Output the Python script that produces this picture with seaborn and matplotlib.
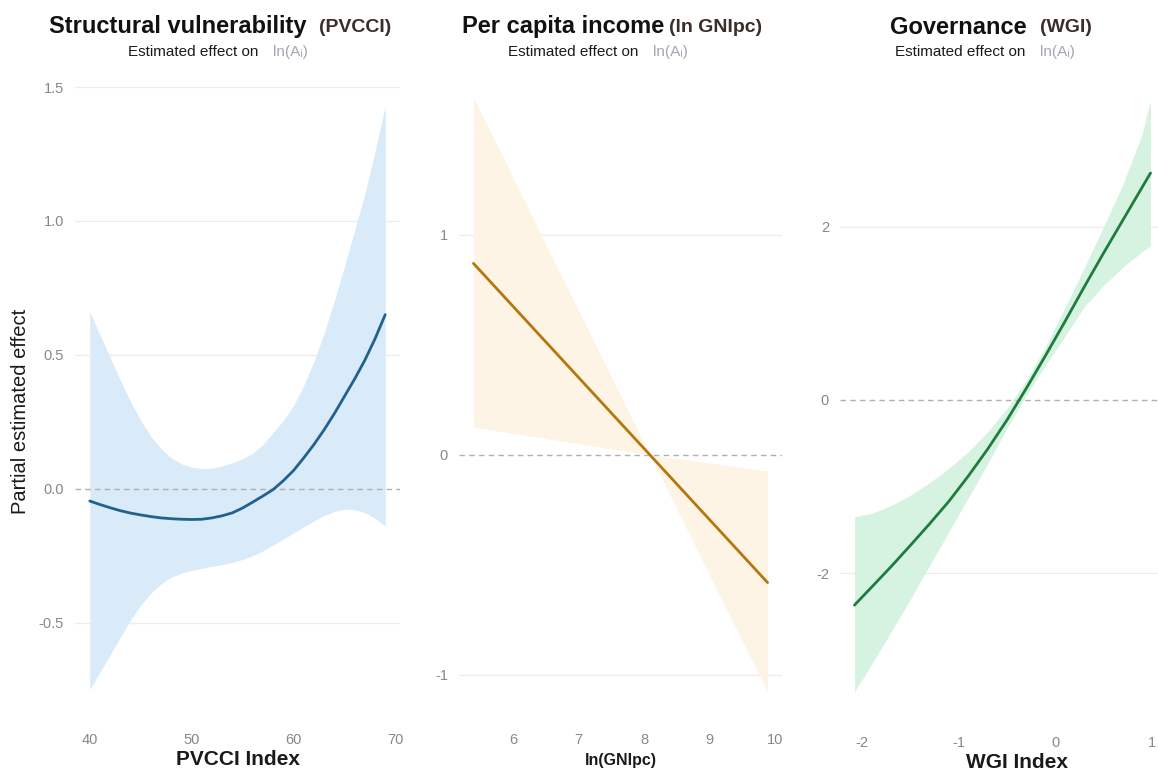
import matplotlib
matplotlib.use("Agg")
import matplotlib.pyplot as plt
import seaborn as sns

# ---- Structural vulnerability (PVCCI) ----
pvcci_x = [40, 41, 42, 43, 44, 45, 46, 47, 48, 49, 50, 51, 52, 53, 54,
           55, 56, 57, 58, 59, 60, 61, 62, 63, 64, 65, 66, 67, 68, 69]
pvcci_fit = [-0.046, -0.059, -0.071, -0.082, -0.091, -0.098, -0.104, -0.109,
             -0.112, -0.114, -0.115, -0.114, -0.109, -0.101, -0.090, -0.072,
             -0.050, -0.027, -0.003, 0.030, 0.068, 0.115, 0.165, 0.220,
             0.280, 0.345, 0.410, 0.480, 0.560, 0.650]
pvcci_hi = [0.660, 0.575, 0.490, 0.405, 0.325, 0.255, 0.195, 0.150, 0.115,
            0.093, 0.080, 0.075, 0.077, 0.085, 0.097, 0.112, 0.132, 0.165,
            0.210, 0.255, 0.310, 0.385, 0.475, 0.580, 0.700, 0.830, 0.965,
            1.100, 1.260, 1.430]
pvcci_lo = [-0.750, -0.685, -0.620, -0.555, -0.490, -0.435, -0.390, -0.355,
            -0.330, -0.315, -0.305, -0.297, -0.290, -0.283, -0.275, -0.264,
            -0.250, -0.232, -0.210, -0.188, -0.165, -0.142, -0.120, -0.100,
            -0.085, -0.077, -0.078, -0.090, -0.110, -0.140]

# ---- Per capita income (ln GNIpc) ----
gni_x = [5.40, 8.09, 9.88]
gni_fit = [0.871, 0.0, -0.580]
gni_hi = [1.625, 0.0, -0.072]
gni_lo = [0.127, 0.0, -1.077]

# ---- Governance (WGI) ----
wgi_x = [-2.08, -1.9, -1.7, -1.5, -1.3, -1.1, -0.9, -0.7, -0.5,
         -0.3, -0.1, 0.1, 0.3, 0.5, 0.7, 0.9, 0.99]
wgi_fit = [-2.37, -2.16, -1.925, -1.68, -1.43, -1.17, -0.88, -0.57, -0.235,
           0.13, 0.51, 0.90, 1.30, 1.69, 2.07, 2.45, 2.62]
wgi_hi = [-1.35, -1.31, -1.22, -1.10, -0.955, -0.79, -0.60, -0.37, -0.10,
          0.22, 0.61, 1.06, 1.52, 1.99, 2.48, 3.06, 3.45]
wgi_lo = [-3.37, -3.05, -2.68, -2.30, -1.91, -1.52, -1.13, -0.74, -0.33,
          0.05, 0.40, 0.73, 1.07, 1.32, 1.53, 1.71, 1.78]

sns.set_theme(style="white")
plt.rcParams["font.family"] = ["Liberation Sans", "DejaVu Sans"]
plt.rcParams["axes.unicode_minus"] = False

W, H = 1158, 771
fig = plt.figure(figsize=(W / 100, H / 100), dpi=100)


def px_axes(left, top, right, bottom):
    return fig.add_axes([left / W, 1 - bottom / H, (right - left) / W, (bottom - top) / H])


panels = [
    dict(ax=px_axes(75, 71, 400, 719), x=pvcci_x, fit=pvcci_fit, hi=pvcci_hi, lo=pvcci_lo,
         line="#22618e", fill="#d9eaf8", xlim=(38.55, 70.45), ylim=(-0.86, 1.56),
         xticks=[40, 50, 60, 70], yticks=[-0.5, 0.0, 0.5, 1.0, 1.5],
         yfmt="{:.1f}", xlabel="PVCCI Index", xlsize=15, xlx=0.5),
    dict(ax=px_axes(459, 70, 782, 719), x=gni_x, fit=gni_fit, hi=gni_hi, lo=gni_lo,
         line="#b5770c", fill="#fdf4e6", xlim=(5.18, 10.10), ylim=(-1.20, 1.75),
         xticks=[6, 7, 8, 9, 10], yticks=[-1, 0, 1],
         yfmt="{:.0f}", xlabel="ln(GNIpc)", xlsize=11.5, xlx=0.5),
    dict(ax=px_axes(840, 70, 1165, 722), x=wgi_x, fit=wgi_fit, hi=wgi_hi, lo=wgi_lo,
         line="#1f7c3e", fill="#d6f3e1", xlim=(-2.23, 1.14), ylim=(-3.72, 3.81),
         xticks=[-2, -1, 0, 1], yticks=[-2, 0, 2],
         yfmt="{:.0f}", xlabel="WGI Index", xlsize=15, xlx=0.545),
]

for p in panels:
    ax = p["ax"]
    ax.set_facecolor("white")
    for s in ax.spines.values():
        s.set_visible(False)
    ax.set_xlim(*p["xlim"])
    ax.set_ylim(*p["ylim"])
    ax.set_yticks(p["yticks"])
    ax.set_yticklabels([p["yfmt"].format(v) for v in p["yticks"]])
    ax.set_xticks(p["xticks"])
    ax.set_xticklabels([str(v) for v in p["xticks"]])
    ax.tick_params(axis="both", length=0, labelsize=10.5, labelcolor="#8a8785")
    ax.tick_params(axis="y", pad=8)
    ax.tick_params(axis="x", pad=10)
    for v in p["yticks"]:
        if v != 0:
            ax.axhline(v, color="#ececec", lw=0.9, zorder=0)
    ax.fill_between(p["x"], p["lo"], p["hi"], color=p["fill"], lw=0, zorder=1)
    ax.axhline(0, color="#b0b0b0", lw=1.0, ls=(0, (4, 3)), zorder=2)
    sns.lineplot(x=p["x"], y=p["fit"], ax=ax, color=p["line"], linewidth=2.0, zorder=3)
    ax.set_xlabel(p["xlabel"], fontsize=p["xlsize"], fontweight="bold", color="#1a1a1a")
    ax.xaxis.set_label_coords(p["xlx"], -0.048 if p["xlsize"] > 12 else -0.052)
    ax.set_ylabel("")

ax1 = panels[0]["ax"]
ax1.set_ylabel("Partial estimated effect", fontsize=14.5, color="#1a1a1a")
ax1.yaxis.set_label_coords(-0.138, 0.474)

fig.canvas.draw()
renderer = fig.canvas.get_renderer()


def composite(xc, yc, parts, gap):
    texts = []
    for s, kw in parts:
        t = fig.text(0, 1 - yc / H, s, va="center", ha="left", **kw)
        texts.append(t)
    widths = [t.get_window_extent(renderer).width for t in texts]
    total = sum(widths) + gap * (len(texts) - 1)
    x = xc - total / 2
    for t, w in zip(texts, widths):
        t.set_x(x / W)
        x += w + gap


titles = [("Structural vulnerability", "(PVCCI)", 220, 218, 13),
          ("Per capita income", "(ln GNIpc)", 612, 598, 4),
          ("Governance", "(WGI)", 991, 985, 14)]
for main, tag, xc_t, xc_s, gap in titles:
    composite(xc_t, 27,
              [(main, dict(fontsize=17, fontweight="bold", color="#111111")),
               (tag, dict(fontsize=14, fontweight="bold", color="#3a2e28"))], gap)
    composite(xc_s, 52,
              [("Estimated effect on", dict(fontsize=11, color="#1a1a1a")),
               ("ln(A\u1d62)", dict(fontsize=11, color="#a3a6b4"))], 14)

fig.savefig("out.png", dpi=100, facecolor="white")
